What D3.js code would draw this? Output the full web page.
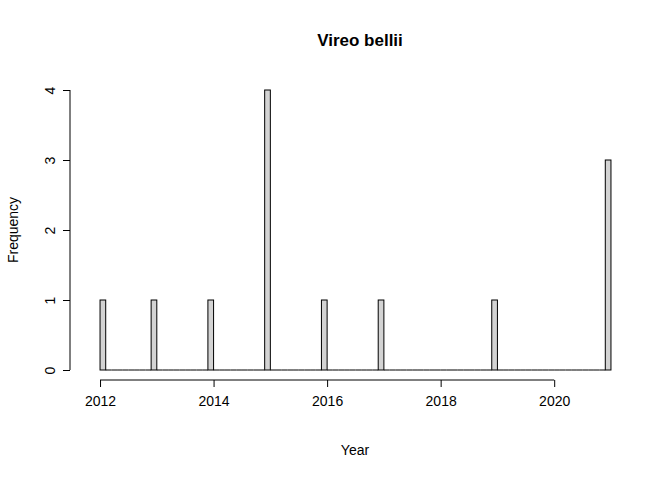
<!DOCTYPE html>
<html><head><meta charset="utf-8">
<script src="https://cdn.jsdelivr.net/npm/d3@7"></script>
<style>body{margin:0;background:#fff}text{font-family:"Liberation Sans",Arial,sans-serif}</style>
</head><body><svg id="c" width="672" height="480"></svg>
<script>
const years = [2012, 2013, 2014, 2015, 2016, 2017, 2019, 2021]
const counts = [1, 1, 1, 4, 1, 1, 1, 3]
const xTicks = [2012, 2014, 2016, 2018, 2020]
const yTicks = [0, 1, 2, 3, 4]

const svg = d3.select('#c')
const x = d3.scaleLinear().domain([2011.64, 2021.36]).range([79.6, 631.4])
const y = d3.scaleLinear().domain([0, 4]).range([370, 90])

// 0.1-year bins, right-closed (first bin includes its lower edge)
const bins = d3.range(90).map(i => ({ x0: 2012 + i / 10, x1: 2012 + (i + 1) / 10, n: 0 }))
years.forEach((yr, k) => {
  let idx = Math.round((yr - 2012) * 10) - 1
  if (idx < 0) idx = 0
  bins[idx].n += counts[k]
})

// zero-count bins show as a flat line
svg.append('g').selectAll('path').data(bins.filter(d => d.n === 0)).join('path')
  .attr('d', d => `M${x(d.x0)},${y(0)}H${x(d.x1)}`)
  .attr('stroke', '#000').attr('stroke-width', 1)

svg.append('g').selectAll('rect').data(bins.filter(d => d.n > 0)).join('rect')
  .attr('x', d => x(d.x0)).attr('width', d => x(d.x1) - x(d.x0))
  .attr('y', d => y(d.n)).attr('height', d => y(0) - y(d.n))
  .attr('fill', '#d3d3d3').attr('stroke', '#000').attr('stroke-width', 1)

const xa = svg.append('g').attr('transform', 'translate(0,380)')
  .call(d3.axisBottom(x).tickValues(xTicks).tickFormat(d3.format('d')).tickSizeOuter(0).tickSize(7))
xa.select('.domain').attr('d', `M${x(2012)},0H${x(2020)}`)
xa.selectAll('text').attr('font-size', 14).attr('dy', '1.15em').attr('fill', '#000')

const ya = svg.append('g').attr('transform', 'translate(70,0)')
  .call(d3.axisLeft(y).tickValues(yTicks).tickFormat(d3.format('d')).tickSizeOuter(0).tickSize(7))
ya.select('.domain').attr('d', `M0,${y(0)}V${y(4)}`)
ya.selectAll('.tick text').attr('font-size', 14).attr('fill', '#000')
  .attr('transform', 'rotate(-90)').attr('x', 0).attr('y', -15).attr('dy', 0)
  .attr('text-anchor', 'middle')

svg.append('text').attr('x', 360).attr('y', 46).attr('text-anchor', 'middle')
  .attr('font-size', 17).attr('font-weight', 'bold').text('Vireo bellii')
svg.append('text').attr('x', 355).attr('y', 455).attr('text-anchor', 'middle')
  .attr('font-size', 14).text('Year')
svg.append('text').attr('transform', 'translate(18,230) rotate(-90)').attr('text-anchor', 'middle')
  .attr('font-size', 14).text('Frequency')
</script></body></html>
